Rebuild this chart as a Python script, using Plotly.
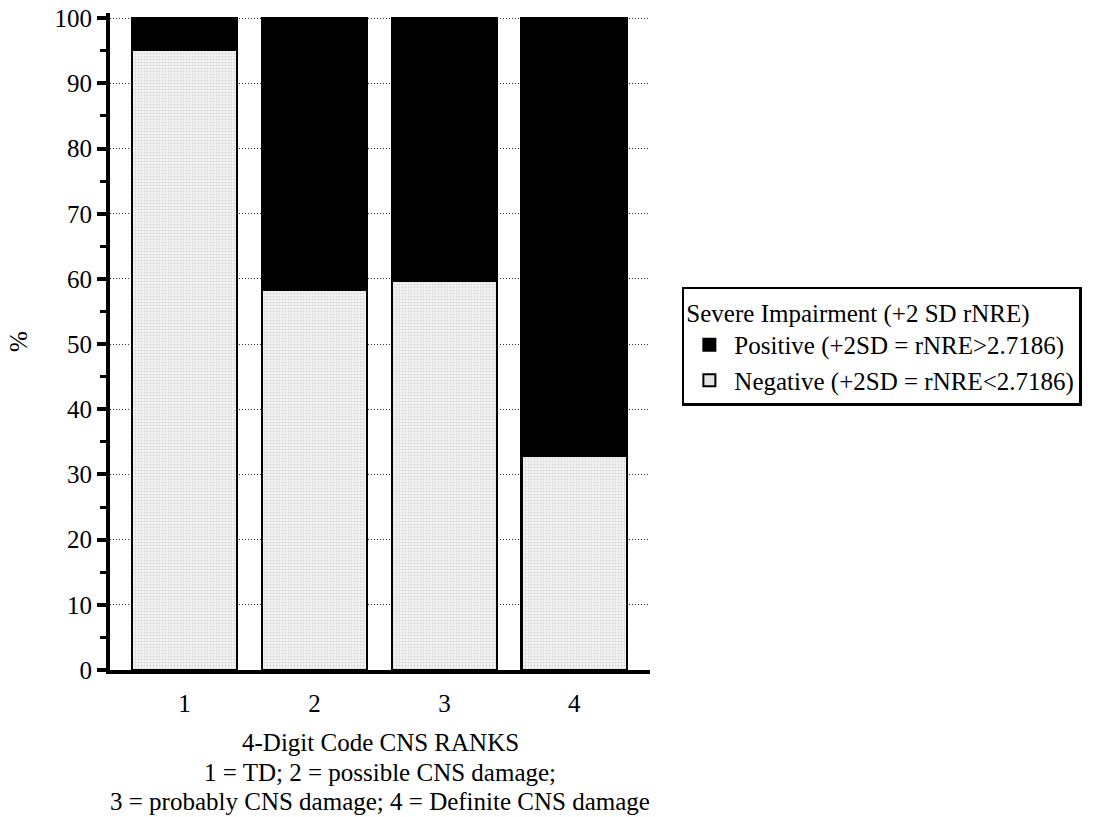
import plotly.graph_objects as go

# CNS rank categories and the share (%) of each impairment outcome
ranks = [1, 2, 3, 4]
negative_pct = [95.2, 58.3, 59.7, 32.9]
positive_pct = [4.8, 41.7, 40.3, 67.1]

y_ticks = [0, 10, 20, 30, 40, 50, 60, 70, 80, 90, 100]

neg_label = "Negative (+2SD = rNRE<2.7186)"
pos_label = "Positive (+2SD = rNRE>2.7186)"
x_title_lines = [
    "4-Digit Code CNS RANKS",
    "1 = TD; 2 = possible CNS damage;",
    "3 = probably CNS damage; 4 = Definite CNS damage",
]

FONT = "Liberation Serif, Times New Roman, serif"
FS = 25
BAR_W = 0.81

fig = go.Figure()

# Stacked bars: negative share at the bottom, positive share on top
fig.add_trace(go.Bar(
    x=ranks, y=negative_pct, name=neg_label, width=BAR_W, showlegend=False,
    marker=dict(
        color="#f2f2f2",
        line=dict(color="black", width=2.5),
        pattern=dict(shape=".", fgcolor="#b8b8b8", bgcolor="#f4f4f4", size=3, solidity=0.35),
    ),
))
fig.add_trace(go.Bar(
    x=ranks, y=positive_pct, name=pos_label, width=BAR_W, showlegend=False,
    marker=dict(color="black", line=dict(color="black", width=2.5)),
))

# Legend swatches as larger squares
fig.add_trace(go.Scatter(
    x=[None], y=[None], mode="markers", name=pos_label,
    marker=dict(symbol="square", size=20, color="black", line=dict(color="black", width=2)),
))
fig.add_trace(go.Scatter(
    x=[None], y=[None], mode="markers", name=neg_label,
    marker=dict(symbol="square", size=20, color="#e4e4e4", line=dict(color="black", width=2)),
))

# Three-line x-axis caption, set as separate lines for tighter spacing
caption_y = [-0.1096, -0.1553, -0.1994]
for text, yy in zip(x_title_lines, caption_y):
    fig.add_annotation(
        text=text, xref="paper", yref="paper", x=0.5, y=yy,
        xanchor="center", yanchor="middle", showarrow=False,
        font=dict(family=FONT, size=FS, color="black"),
    )

fig.update_layout(
    barmode="stack",
    width=1097, height=817,
    margin=dict(l=110, r=447, t=13, b=147),
    paper_bgcolor="white", plot_bgcolor="white",
    font=dict(family=FONT, size=FS, color="black"),
    showlegend=True,
    legend=dict(
        title=dict(text="Severe Impairment (+2 SD rNRE)", font=dict(size=FS)),
        traceorder="normal",
        x=1.059, xanchor="left", y=0.583, yanchor="top",
        bordercolor="black", borderwidth=2.5, bgcolor="white",
        font=dict(size=FS),
        itemsizing="constant", itemwidth=40,
        tracegroupgap=0,
    ),
)

fig.update_xaxes(
    range=[0.427, 4.582],
    tickmode="array", tickvals=ranks, ticktext=[str(r) for r in ranks],
    tickfont=dict(family=FONT, size=FS, color="black"),
    ticks="outside", ticklen=8, tickcolor="rgba(0,0,0,0)",
    showline=True, linecolor="black", linewidth=4,
    showgrid=False, zeroline=False,
    automargin=False,
)

fig.update_yaxes(
    range=[0, 100.8],
    tickmode="array", tickvals=y_ticks,
    tickfont=dict(family=FONT, size=FS, color="black"),
    ticks="outside", ticklen=9, tickwidth=4, tickcolor="black",
    minor=dict(dtick=5, ticks="outside", ticklen=6, tickwidth=3, tickcolor="black", showgrid=False),
    showline=True, linecolor="black", linewidth=4,
    showgrid=True, gridcolor="#333333", gridwidth=1, griddash="1px,2px",
    zeroline=False,
    title=dict(text="%", standoff=21, font=dict(family=FONT, size=FS)),
    automargin=False,
)

fig.write_html("out.html")
